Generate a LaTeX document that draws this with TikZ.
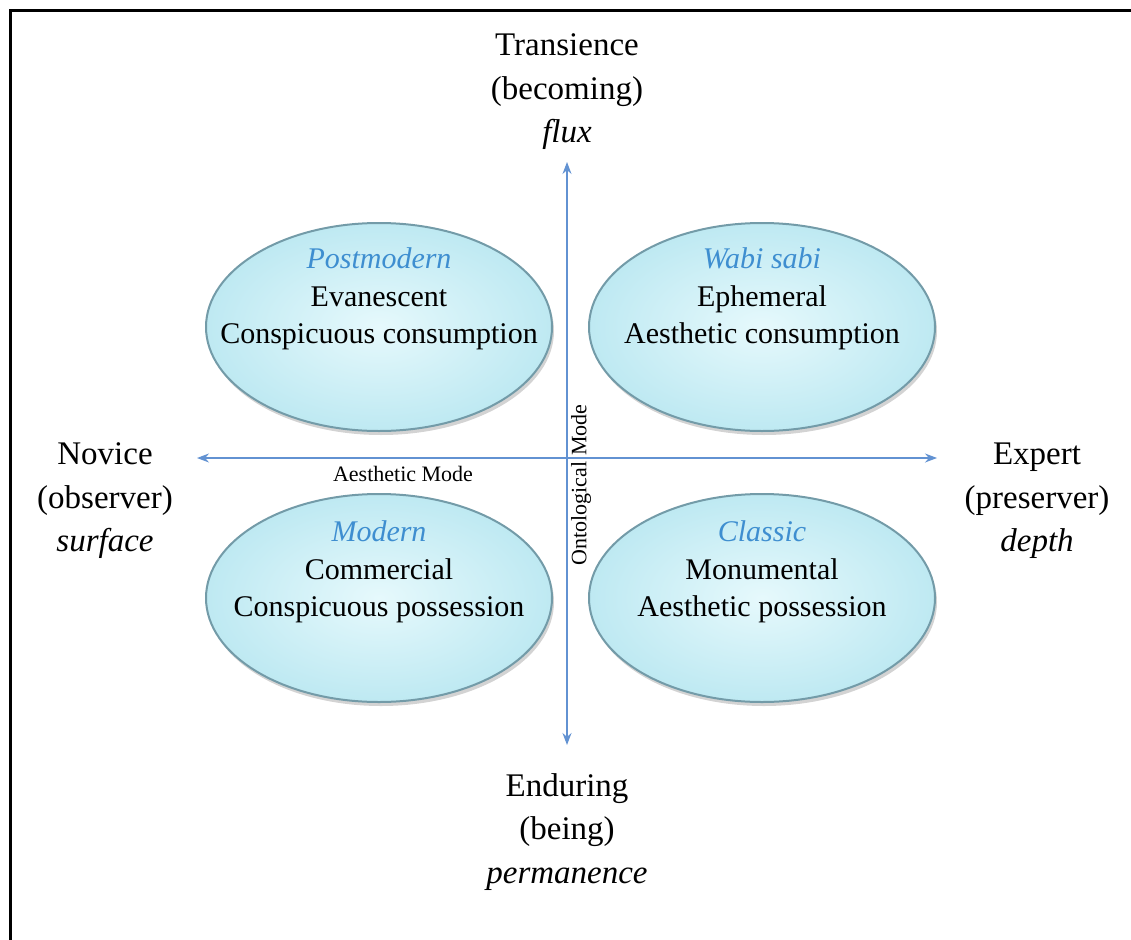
\documentclass[tikz,border=0pt]{standalone}
\usepackage{fontspec}
\setmainfont{Liberation Serif}
\usetikzlibrary{shapes.geometric,shadows,arrows.meta,positioning}

\definecolor{moodin}{RGB}{230,249,252}
\definecolor{moodout}{RGB}{190,233,242}
\definecolor{moodrim}{RGB}{115,155,168}
\definecolor{tagblue}{RGB}{62,142,208}
\definecolor{axisblue}{RGB}{98,146,210}

\begin{document}
\begin{tikzpicture}[x=1pt,y=-1pt,
		mood/.style={ellipse, draw=moodrim, line width=2pt, inner color=moodin, outer color=moodout,
			minimum width=346pt, minimum height=208pt,
			drop shadow={shadow xshift=2pt, shadow yshift=-4pt, opacity=0.35}},
		moodtext/.style={align=center, inner sep=0pt, font=\fontsize{30}{37.5}\selectfont},
		pole/.style={align=center, inner sep=0pt, font=\fontsize{33}{43.5}\selectfont},
		modelabel/.style={inner sep=0pt, font=\fontsize{22}{26}\selectfont},
		axis/.style={draw=axisblue, line width=1.1pt, {Stealth[length=12pt,width=9pt]}-{Stealth[length=12pt,width=9pt]}}]
	\useasboundingbox (0,0) rectangle (1131,939);
	\draw[line width=3pt] (10.5,960) |- (1150,10.5);
	
	% four quadrants
	\node[mood] (pm) at (379,327) {};
	\node[mood] (ws) at (762,327) {};
	\node[mood] (md) at (379,598) {};
	\node[mood] (cl) at (762,598) {};
	\node[moodtext] (pmtext) at (379,299) {\textcolor{tagblue}{\itshape Postmodern}\\Evanescent\\Conspicuous consumption};
	\node[moodtext] (wstext) at (762,299) {\textcolor{tagblue}{\itshape Wabi sabi}\\Ephemeral\\Aesthetic consumption};
	\node[moodtext] (mdtext) at (379,572) {\textcolor{tagblue}{\itshape Modern}\\Commercial\\Conspicuous possession};
	\node[moodtext] (cltext) at (762,572) {\textcolor{tagblue}{\itshape Classic}\\Monumental\\Aesthetic possession};
	
	% axes
	\coordinate (top) at (567,162);
	\coordinate (bottom) at (567,745);
	\coordinate (left) at (197,458);
	\coordinate (right) at (937,458);
	\draw[axis] (bottom) -- (top);
	\draw[axis] (left) -- (right);
	\node[modelabel] (aes) at (403,474) {Aesthetic Mode};
	\node[modelabel, rotate=90] (ont) at (581,485) {Ontological Mode};
	
	% poles
	\node[pole] (trans) at (567,92) {Transience\\(becoming)\\\textit{flux}};
	\node[pole] (endur) at (567,832) {Enduring\\(being)\\\textit{permanence}};
	\node[pole] (novice) at (105,501) {Novice\\(observer)\\\textit{surface}};
	\node[pole] (expert) at (1037,501) {Expert\\(preserver)\\\textit{depth}};
\end{tikzpicture}
\end{document}
